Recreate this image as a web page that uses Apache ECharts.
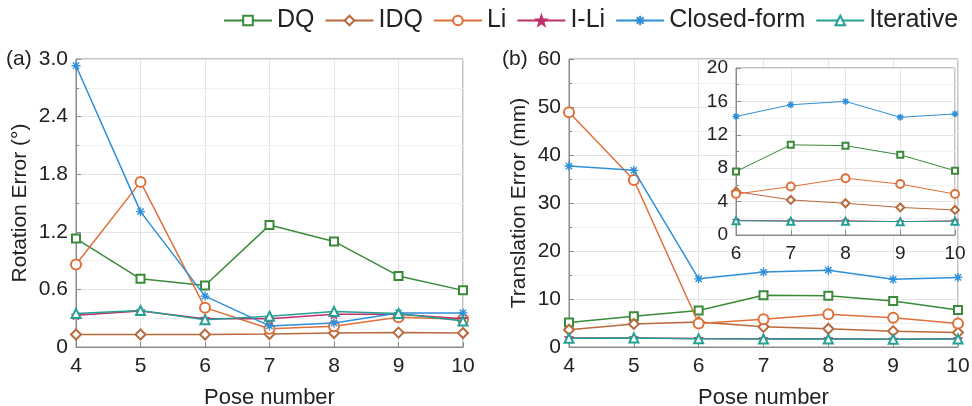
<!DOCTYPE html>
<html>
<head>
<meta charset="utf-8">
<script src="https://cdn.jsdelivr.net/npm/echarts@6/dist/echarts.min.js"></script>
<style>
  html, body { margin: 0; padding: 0; background: #fff; }
  #chart { width: 972px; height: 406px; }
</style>
</head>
<body>
<div id="chart"></div>
<script>
// pose numbers on the x axis
var poses = [4, 5, 6, 7, 8, 9, 10];
var names = ['DQ', 'IDQ', 'Li', 'I-Li', 'Closed-form', 'Iterative'];

// (a) rotation error, degrees
var rotDQ     = [1.13, 0.71, 0.64, 1.27, 1.10, 0.74, 0.59];
var rotIDQ    = [0.13, 0.13, 0.13, 0.135, 0.145, 0.15, 0.145];
var rotLi     = [0.86, 1.72, 0.41, 0.19, 0.215, 0.31, 0.29];
var rotILi    = [0.33, 0.375, 0.295, 0.295, 0.34, 0.34, 0.295];
var rotClosed = [2.93, 1.41, 0.53, 0.22, 0.25, 0.355, 0.355];
var rotIter   = [0.35, 0.38, 0.285, 0.32, 0.37, 0.35, 0.27];

// (b) translation error, mm
var trDQ     = [5.1, 6.4, 7.6, 10.8, 10.7, 9.6, 7.7];
var trIDQ    = [3.6, 4.8, 5.2, 4.2, 3.8, 3.3, 3.0];
var trLi     = [48.9, 34.8, 4.9, 5.8, 6.8, 6.1, 4.9];
var trILi    = [1.9, 1.9, 1.75, 1.7, 1.7, 1.6, 1.7];
var trClosed = [37.7, 36.8, 14.2, 15.6, 16.0, 14.1, 14.5];
var trIter   = [1.8, 1.9, 1.7, 1.65, 1.65, 1.6, 1.65];

var colors = ['#3a8a3a', '#b86a3c', '#e0703a', '#c0306a', '#2f8fd8', '#25a094'];
var symbols = [
  'emptyRect', 'emptyDiamond', 'emptyCircle',
  'path://M0,-10 L2.35,-3.24 9.51,-3.09 3.8,1.24 5.88,8.09 0,4 -5.88,8.09 -3.8,1.24 -9.51,-3.09 -2.35,-3.24 Z',
  'path://M0,-10 L0,10 M-10,0 L10,0 M-7,-7 L7,7 M-7,7 L7,-7',
  'emptyTriangle'
];
var symSizes = [8, 10, 10, 9, 9, 9];

var rotSets = [rotDQ, rotIDQ, rotLi, rotILi, rotClosed, rotIter];
var trSets = [trDQ, trIDQ, trLi, trILi, trClosed, trIter];

function pairs(vals, from) {
  var out = [];
  for (var i = from; i < poses.length; i++) out.push([poses[i], vals[i]]);
  return out;
}

var axisCol = '#8a8a8a';
var txtCol = '#222';

function xAx(idx, size, inset) {
  return {
    type: 'value', gridIndex: idx, min: inset ? 6 : 4, max: 10, interval: 1,
    name: inset ? '' : 'Pose number',
    nameLocation: 'middle', nameGap: 40,
    nameTextStyle: { fontSize: 22, color: txtCol, fontFamily: 'Liberation Sans' },
    axisLine: { lineStyle: { color: axisCol } },
    axisTick: { inside: true, length: 5, lineStyle: { color: axisCol } },
    axisLabel: { fontSize: size, color: txtCol, margin: 9, fontFamily: 'Liberation Sans' },
    splitLine: { show: true, lineStyle: { color: '#e4e4e4' } }
  };
}
function yAx(idx, min, max, interval, size, name, gap, fmt) {
  return {
    type: 'value', gridIndex: idx, min: min, max: max, interval: interval,
    name: name, nameLocation: 'middle', nameGap: gap,
    nameTextStyle: { fontSize: 21, color: txtCol, fontFamily: 'Liberation Sans' },
    axisLine: { show: true, lineStyle: { color: axisCol } },
    axisTick: { inside: true, length: 5, lineStyle: { color: axisCol } },
    minorTick: { show: true, splitNumber: 2, length: 3, lineStyle: { color: axisCol } },
    minorSplitLine: { show: true, lineStyle: { color: '#f0f0f0' } },
    axisLabel: { fontSize: size, color: txtCol, margin: 8, fontFamily: 'Liberation Sans', formatter: fmt },
    splitLine: { show: true, lineStyle: { color: '#e4e4e4' } }
  };
}

function mk(k, axis, from, size, width, z) {
  return {
    name: names[k], type: 'line', xAxisIndex: axis, yAxisIndex: axis,
    data: pairs(axis === 0 ? rotSets[k] : trSets[k], from),
    symbol: symbols[k], symbolSize: size, showAllSymbol: true,
    lineStyle: { width: width, color: colors[k] },
    itemStyle: { color: colors[k], borderColor: colors[k], borderWidth: k === 4 ? 1.4 : 1 },
    z: z
  };
}

var series = [];
for (var k = 0; k < names.length; k++) {
  series.push(mk(k, 0, 0, symSizes[k], 1.5, 3 + k));
  series.push(mk(k, 1, 0, symSizes[k], 1.5, 3 + k));
  series.push(mk(k, 2, 2, symSizes[k] - 2, 1, 12 + k));
}

var chart = echarts.init(document.getElementById('chart'));
chart.setOption({
  animation: false,
  color: colors,
  textStyle: { fontFamily: 'Liberation Sans' },
  legend: {
    data: names,
    left: 218, top: 3, itemWidth: 48, itemHeight: 12, itemGap: 10,
    textStyle: { fontSize: 25, color: txtCol, fontFamily: 'Liberation Sans' }
  },
  grid: [
    { left: 76, right: 509, top: 59, bottom: 59, show: true, borderColor: axisCol, borderWidth: 1, outerBoundsMode: 'none', containLabel: false },
    { left: 569, right: 14, top: 59, bottom: 59, show: true, borderColor: axisCol, borderWidth: 1, outerBoundsMode: 'none', containLabel: false },
    { left: 736, right: 17, top: 68, bottom: 171, show: true, borderColor: axisCol, borderWidth: 1, backgroundColor: '#fff', z: 10, outerBoundsMode: 'none', containLabel: false }
  ],
  xAxis: [xAx(0, 21), xAx(1, 21), Object.assign(xAx(2, 19, true), { z: 11 })],
  yAxis: [
    yAx(0, 0, 3, 0.6, 21, 'Rotation Error (°)', 45, function (v) { return v === 0 ? '0' : v.toFixed(1); }),
    yAx(1, 0, 60, 10, 21, 'Translation Error (mm)', 39),
    Object.assign(yAx(2, 0, 20, 4, 19, '', 0), { z: 11 })
  ],
  graphic: [
    { type: 'text', left: 6, top: 49, style: { text: '(a)', fontSize: 21, fill: txtCol, fontFamily: 'Liberation Sans' } },
    { type: 'text', left: 502, top: 49, style: { text: '(b)', fontSize: 21, fill: txtCol, fontFamily: 'Liberation Sans' } }
  ],
  series: series
});
</script>
</body>
</html>
